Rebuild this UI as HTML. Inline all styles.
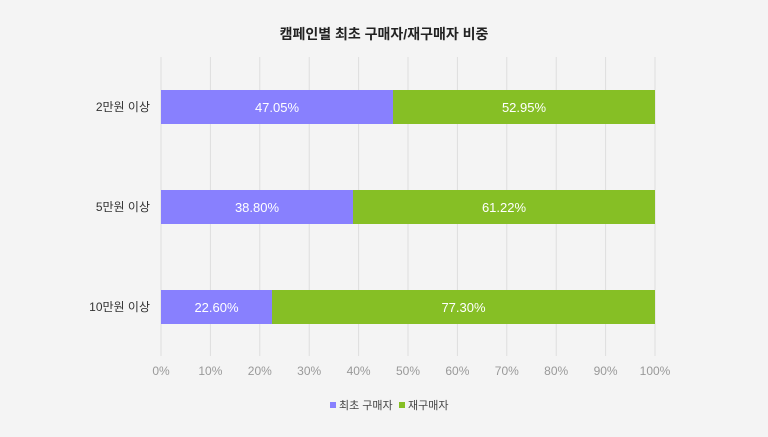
<!DOCTYPE html>
<html><head><meta charset="utf-8"><style>
body{margin:0;background:#f4f4f4;}
svg text{font-family:"Liberation Sans","Noto Sans CJK KR",sans-serif;}
</style></head><body>
<svg width="768" height="432" viewBox="0 0 768 432" xmlns="http://www.w3.org/2000/svg">
<rect width="768" height="432" fill="#f4f4f4"/>
<text x="384" y="39" text-anchor="middle" font-size="14" font-weight="bold" fill="#222">캠페인별 최초 구매자/재구매자 비중</text>
<g stroke="#dedede" stroke-width="1">
<line x1="161" y1="57" x2="161" y2="356"/><line x1="210.4" y1="57" x2="210.4" y2="356"/><line x1="259.8" y1="57" x2="259.8" y2="356"/><line x1="309.2" y1="57" x2="309.2" y2="356"/><line x1="358.6" y1="57" x2="358.6" y2="356"/><line x1="408" y1="57" x2="408" y2="356"/><line x1="457.4" y1="57" x2="457.4" y2="356"/><line x1="506.8" y1="57" x2="506.8" y2="356"/><line x1="556.2" y1="57" x2="556.2" y2="356"/><line x1="605.6" y1="57" x2="605.6" y2="356"/><line x1="655" y1="57" x2="655" y2="356"/>
</g>
<g font-size="12" fill="#999" text-anchor="middle">
<text x="161" y="375">0%</text><text x="210.4" y="375">10%</text><text x="259.8" y="375">20%</text><text x="309.2" y="375">30%</text><text x="358.6" y="375">40%</text><text x="408" y="375">50%</text><text x="457.4" y="375">60%</text><text x="506.8" y="375">70%</text><text x="556.2" y="375">80%</text><text x="605.6" y="375">90%</text><text x="655" y="375">100%</text>
</g>
<rect x="161" y="90" width="232" height="34" fill="#8880fe"/><rect x="393" y="90" width="262" height="34" fill="#86bf25"/>
<rect x="161" y="190" width="192" height="34" fill="#8880fe"/><rect x="353" y="190" width="302" height="34" fill="#86bf25"/>
<rect x="161" y="290" width="111" height="34" fill="#8880fe"/><rect x="272" y="290" width="383" height="34" fill="#86bf25"/>
<g font-size="13" fill="#fff" text-anchor="middle">
<text x="277" y="112">47.05%</text><text x="524" y="112">52.95%</text>
<text x="257" y="212">38.80%</text><text x="504" y="212">61.22%</text>
<text x="216.5" y="312">22.60%</text><text x="463.5" y="312">77.30%</text>
</g>
<g font-size="12" fill="#333" text-anchor="end">
<text x="150" y="111">2만원 이상</text><text x="150" y="211">5만원 이상</text><text x="150" y="311">10만원 이상</text>
</g>
<rect x="330" y="402" width="6" height="6" fill="#8880fe"/>
<text x="339" y="409" font-size="11" fill="#444">최초 구매자</text>
<rect x="399" y="402" width="6" height="6" fill="#86bf25"/>
<text x="408" y="409" font-size="11" fill="#444">재구매자</text>
</svg>
</body></html>
